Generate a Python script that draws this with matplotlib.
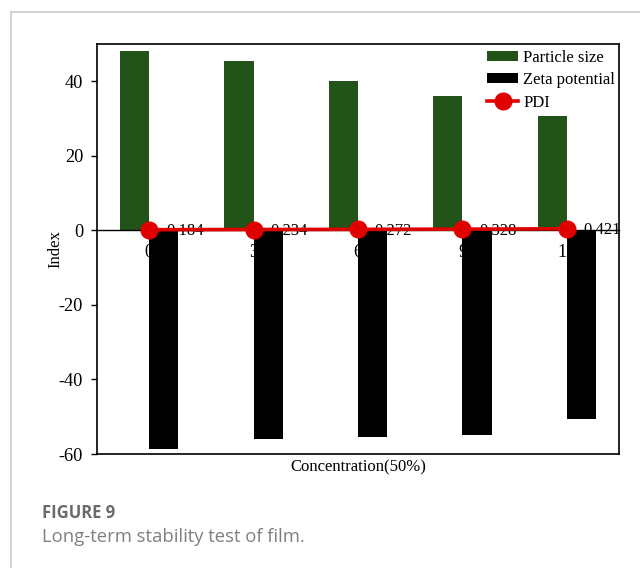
import matplotlib
matplotlib.use('Agg')
import matplotlib.pyplot as plt
import numpy as np
from matplotlib.lines import Line2D

plt.rcParams['font.family'] = 'Liberation Serif'
plt.rcParams['axes.unicode_minus'] = False

# storage time groups
times = ['0', '3', '6', '9', '12']
particle_size = [48.2, 45.4, 40.2, 36.1, 30.6]
zeta_potential = [-58.6, -56.1, -55.4, -54.8, -50.7]
pdi = [0.184, 0.234, 0.272, 0.328, 0.421]

green = '#22541a'
red = '#e00000'

fig = plt.figure(figsize=(6.4, 5.68), dpi=100)
ax = fig.add_axes([0.1516, 0.2007, 0.8156, 0.7218])

x = np.arange(len(times))
w = 0.28
b1 = ax.bar(x - w / 2, particle_size, w, color=green, label='Particle size', zorder=1)
b2 = ax.bar(x + w / 2, zeta_potential, w, color='black', label='Zeta potential', zorder=1)
l1, = ax.plot(x, pdi, color=red, lw=2.6, marker='o', ms=12, label='PDI', zorder=4)
for xi, v in zip(x, pdi):
    ax.annotate('%.3f' % v, (xi, v), xytext=(12, -1), textcoords='offset points',
                ha='left', va='center', fontsize=12, zorder=3)

ax.set_xlim(-0.5, 4.5)
ax.set_ylim(-60, 50)
ax.set_yticks([-60, -40, -20, 0, 20, 40])
ax.set_xticks(x)
ax.set_xticklabels(times)
ax.set_axisbelow(True)

# horizontal axis sits at zero, the box is drawn separately
ax.spines['bottom'].set_position(('data', 0))
ax.spines['bottom'].set_linewidth(1.0)
for s in ['top', 'left', 'right']:
    ax.spines[s].set_linewidth(1.2)
ax.plot([0, 1], [0, 0], transform=ax.transAxes, color='black', lw=1.2, clip_on=False)

ax.tick_params(axis='x', length=0, pad=10, labelsize=13)
ax.tick_params(axis='y', direction='out', length=4, width=1, pad=6, labelsize=13.2)
ax.set_ylabel('Index', fontsize=12, labelpad=-3)
ax.text(0.5, -0.012, 'Concentration(50%)', transform=ax.transAxes, ha='center',
        va='top', fontsize=12)

ax.legend([b1, b2, l1], ['Particle size', 'Zeta potential', 'PDI'],
          loc='upper right', bbox_to_anchor=(1.012, 1.01), frameon=False, fontsize=12,
          handlelength=1.9, handleheight=0.55, handletextpad=0.3, labelspacing=0.38,
          borderaxespad=0.2)

# card border
fig.add_artist(Line2D([11 / 640, 1], [1 - 12 / 568, 1 - 12 / 568], color='#cccccc', lw=1.2))
fig.add_artist(Line2D([11 / 640, 11 / 640], [0, 1 - 12 / 568], color='#cccccc', lw=1.2))

fig.text(42 / 640, 1 - 513 / 568, 'FIGURE 9', family='Open Sans', fontsize=12,
         weight='bold', color='#6b6b6b', va='center', ha='left')
fig.text(42 / 640, 1 - 537 / 568, 'Long-term stability test of film.', family='Open Sans',
         fontsize=13.3, color='#808080', va='center', ha='left')

fig.savefig('out.png', dpi=100)
